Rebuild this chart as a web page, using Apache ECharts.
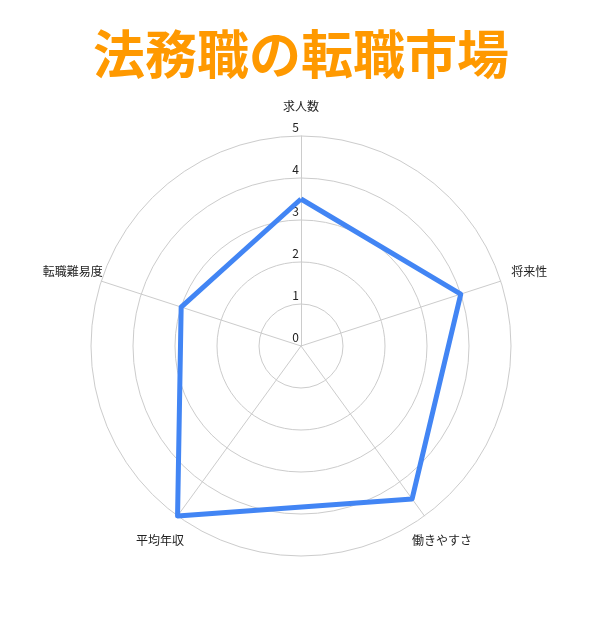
<!DOCTYPE html>
<html>
<head>
<meta charset="utf-8">
<script src="https://cdn.jsdelivr.net/npm/echarts@6/dist/echarts.min.js"></script>
<style>
  html, body { margin: 0; padding: 0; background: #fff; }
  #chart { width: 602px; height: 622px; }
</style>
</head>
<body>
<div id="chart"></div>
<script>
  // indicators and values
  // (ECharts lays radar axes out counter-clockwise, so listed in that order)
  const indicatorNames = ['求人数', '転職難易度', '平均年収', '働きやすさ', '将来性'];
  const scoreValues = [3.5, 3, 5, 4.5, 4];
  const maxScore = 5;

  const myChart = echarts.init(document.getElementById('chart'));

  const indicators = indicatorNames.map(function (name, i) {
    const item = { name: name, min: 0, max: maxScore };
    // only the top axis carries the scale labels
    if (i === 0) {
      item.axisLabel = {
        show: true,
        color: '#222',
        fontSize: 12,
        align: 'right',
        verticalAlign: 'bottom',
        margin: 2,
        padding: [0, 0, 3, 0]
      };
    }
    return item;
  });

  const option = {
    backgroundColor: '#fff',
    textStyle: { fontFamily: '"Noto Sans CJK JP", "Noto Sans", sans-serif' },
    title: {
      text: '法務職の転職市場',
      left: 'center',
      top: 23,
      textStyle: {
        color: '#ff9900',
        fontSize: 52,
        fontWeight: 'bold',
        fontFamily: '"Noto Sans CJK JP", sans-serif'
      }
    },
    radar: {
      center: ['50%', 346],
      radius: 210,
      shape: 'circle',
      startAngle: 90,
      splitNumber: 5,
      indicator: indicators,
      axisName: {
        color: '#222',
        fontSize: 12,
        align: 'center',
        verticalAlign: 'middle'
      },
      nameGap: 30,
      axisLine: { lineStyle: { color: '#ccc', width: 1 } },
      splitLine: { lineStyle: { color: '#ccc', width: 1 } },
      splitArea: { show: false },
      axisTick: { show: false },
      axisLabel: { show: false }
    },
    series: [
      {
        type: 'radar',
        symbol: 'none',
        lineStyle: { color: '#4285f4', width: 5 },
        data: [{ value: scoreValues, name: '法務職' }]
      }
    ]
  };

  myChart.setOption(option);
</script>
</body>
</html>
